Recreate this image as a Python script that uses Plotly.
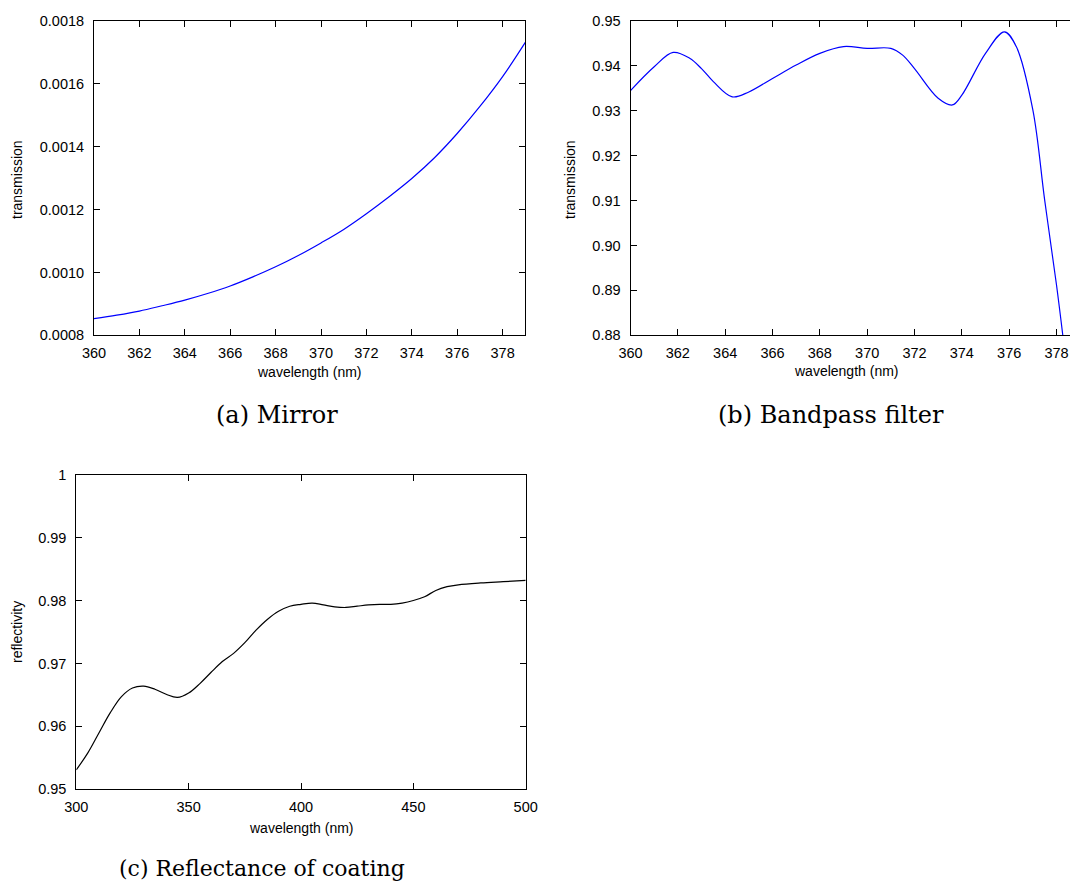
import plotly.graph_objects as go

W, H = 1070, 882

# ---- data ----
mirror_wl = [360, 361, 362, 363, 364, 365, 366, 367, 368, 369, 370, 371, 372, 373, 374, 375, 376, 377, 378, 379]
mirror_tr = [0.000853, 0.000864, 0.000877, 0.000894, 0.000912, 0.000933, 0.000957, 0.000986, 0.001018, 0.001054,
             0.001094, 0.001137, 0.001187, 0.001241, 0.001299, 0.001365, 0.001442, 0.001528, 0.001623, 0.001732]

bp_wl = [360, 361, 361.8, 362.5, 363, 363.5, 364.3, 365, 366, 367, 368, 369, 370, 371, 371.5, 372, 373, 373.6,
         374, 375, 375.8, 376.3, 377, 377.5, 378, 378.3]
bp_tr = [0.9345, 0.9398, 0.9430, 0.9417, 0.9394, 0.9365, 0.9331, 0.9342, 0.9372, 0.9402, 0.9428, 0.9443, 0.9439,
         0.9439, 0.9424, 0.9394, 0.9328, 0.9313, 0.9335, 0.9428, 0.9476, 0.9443, 0.9302, 0.9101, 0.8912, 0.8785]

coat_wl = [300, 305, 310, 315, 320, 325, 330, 335, 340, 345, 350, 355, 360, 365, 370, 375, 380, 385, 390, 395,
           400, 405, 410, 415, 420, 425, 430, 435, 440, 445, 450, 455, 460, 465, 470, 480, 490, 500]
coat_rf = [0.9531, 0.9557, 0.9589, 0.9621, 0.9647, 0.9661, 0.9664, 0.9659, 0.9651, 0.9646, 0.9653, 0.9668,
           0.9686, 0.9703, 0.9716, 0.9733, 0.9753, 0.9770, 0.9783, 0.9791, 0.9794, 0.9796, 0.9793, 0.9790,
           0.9789, 0.9791, 0.9793, 0.9794, 0.9794, 0.9796, 0.9800, 0.9806, 0.9816, 0.9822, 0.9825, 0.9828,
           0.9830, 0.9832]

mirror_yticks = [0.0008, 0.0010, 0.0012, 0.0014, 0.0016, 0.0018]
mirror_yticktext = ["0.0008", "0.0010", "0.0012", "0.0014", "0.0016", "0.0018"]
bp_yticks = [0.88, 0.89, 0.90, 0.91, 0.92, 0.93, 0.94, 0.95]
bp_yticktext = ["0.88", "0.89", "0.90", "0.91", "0.92", "0.93", "0.94", "0.95"]
coat_yticks = [0.95, 0.96, 0.97, 0.98, 0.99, 1.0]
coat_yticktext = ["0.95", "0.96", "0.97", "0.98", "0.99", "1"]
nm_xticks = [360, 362, 364, 366, 368, 370, 372, 374, 376, 378]
coat_xticks = [300, 350, 400, 450, 500]

captions = ["(a) Mirror", "(b) Bandpass filter", "(c) Reflectance of coating"]
x_title = "wavelength (nm)"
y_titles = ["transmission", "transmission", "reflectivity"]

# ---- layout helpers ----
def px_x(p):
    return p / W

def px_y(p):
    return 1 - p / H

tick_font = dict(family="Liberation Sans, Arial, sans-serif", size=14.5, color="#000")
title_font = dict(family="Liberation Sans, Arial, sans-serif", size=14, color="#000")

fig = go.Figure()
fig.add_trace(go.Scatter(x=mirror_wl, y=mirror_tr, mode="lines", line=dict(color="#0000ff", width=1.2, shape="spline"),
                         xaxis="x", yaxis="y", showlegend=False))
fig.add_trace(go.Scatter(x=bp_wl, y=bp_tr, mode="lines", line=dict(color="#0000ff", width=1.2, shape="spline"),
                         xaxis="x2", yaxis="y2", showlegend=False, cliponaxis=True))
fig.add_trace(go.Scatter(x=coat_wl, y=coat_rf, mode="lines", line=dict(color="#000000", width=1.2, shape="spline"),
                         xaxis="x3", yaxis="y3", showlegend=False))

common = dict(showline=True, linecolor="#000", linewidth=1, ticks="inside", ticklen=6, tickcolor="#000",
              tickwidth=1, showgrid=False, zeroline=False, tickfont=tick_font, automargin=False)

fig.update_layout(
    width=W, height=H, margin=dict(l=0, r=0, t=0, b=0),
    paper_bgcolor="white", plot_bgcolor="white",
    xaxis=dict(domain=[px_x(94), px_x(525.3)], range=[360, 379], tickvals=nm_xticks, mirror="ticks",
               anchor="y", ticklabelstandoff=4, **common),
    yaxis=dict(domain=[px_y(335.3), px_y(21)], range=[0.0008, 0.0018], tickvals=mirror_yticks,
               ticktext=mirror_yticktext, mirror="ticks", anchor="x", ticklabelstandoff=6, **common),
    xaxis2=dict(domain=[px_x(630.5), 1.0], range=[360, 378.57], tickvals=nm_xticks, mirror="ticks",
                anchor="y2", ticklabelstandoff=4, **common),
    yaxis2=dict(domain=[px_y(335.3), px_y(21)], range=[0.88, 0.95], tickvals=bp_yticks,
                ticktext=bp_yticktext, mirror=False, anchor="x2", ticklabelstandoff=6, **common),
    xaxis3=dict(domain=[px_x(76.3), px_x(525.7)], range=[300, 500], tickvals=coat_xticks, mirror="ticks",
                anchor="y3", ticklabelstandoff=4, **common),
    yaxis3=dict(domain=[px_y(789.3), px_y(474.7)], range=[0.95, 1.0], tickvals=coat_yticks,
                ticktext=coat_yticktext, mirror="ticks", anchor="x3", ticklabelstandoff=6, **common),
)

annos = []
# x-axis titles
for cx, cy in [((94 + 525.3) / 2, 372), (846, 371), ((76.3 + 525.7) / 2, 828)]:
    annos.append(dict(text=x_title, x=px_x(cx), y=px_y(cy), xref="paper", yref="paper",
                      xanchor="center", yanchor="middle", showarrow=False, font=title_font))
# y-axis titles
for (cx, cy), t in zip([(17, 180), (570, 180), (17, 632)], y_titles):
    annos.append(dict(text=t, x=px_x(cx), y=px_y(cy), xref="paper", yref="paper", textangle=-90,
                      xanchor="center", yanchor="middle", showarrow=False, font=title_font))
# captions
for (cx, cy), t, fs in zip([(277, 415), (831, 415), (262, 868)], captions, [24, 24, 22]):
    annos.append(dict(text=t, x=px_x(cx), y=px_y(cy), xref="paper", yref="paper",
                      xanchor="center", yanchor="middle", showarrow=False,
                      font=dict(family="DejaVu Serif, serif", size=fs, color="#000")))
fig.update_layout(annotations=annos)

fig.write_html("out.html")
